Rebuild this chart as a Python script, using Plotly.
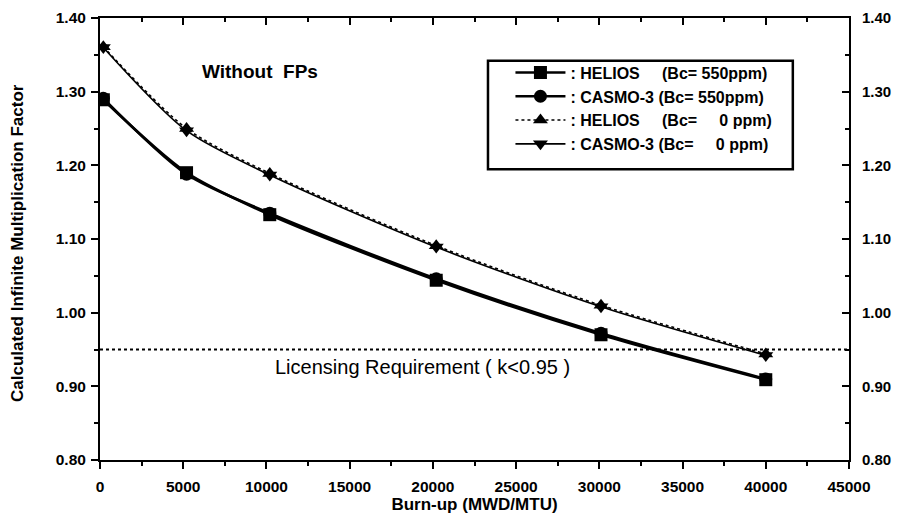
import plotly.graph_objects as go

burnup = [200, 5200, 10200, 20200, 30100, 40000]
helios_550 = [1.289, 1.190, 1.133, 1.044, 0.970, 0.909]
casmo_550 = [1.291, 1.188, 1.135, 1.046, 0.972, 0.910]
helios_0 = [1.361, 1.250, 1.189, 1.091, 1.010, 0.944]
casmo_0 = [1.360, 1.247, 1.187, 1.089, 1.008, 0.942]

limit_x = [0, 45000]
limit_y = [0.95, 0.95]

series_names = [
    ":\u00a0HELIOS\u00a0\u00a0\u00a0\u00a0\u00a0(Bc=\u00a0550ppm)",
    ":\u00a0CASMO-3\u00a0(Bc=\u00a0550ppm)",
    ":\u00a0HELIOS\u00a0\u00a0\u00a0\u00a0\u00a0(Bc=\u00a0\u00a0\u00a0\u00a0\u00a00\u00a0ppm)",
    ":\u00a0CASMO-3\u00a0(Bc=\u00a0\u00a0\u00a0\u00a0\u00a00\u00a0ppm)",
]

FONT = "Liberation Sans, Arial, sans-serif"
BLACK = "#000000"

fig = go.Figure()

styles = [
    (helios_550, "square", "solid", 2.6),
    (casmo_550, "circle", "solid", 2.6),
    (helios_0, "triangle-up", "dot", 1.6),
    (casmo_0, "triangle-down", "solid", 1.6),
]
for (ys, sym, dash, lw), name in zip(styles, series_names):
    fig.add_trace(go.Scatter(
        x=burnup, y=ys, name=name, mode="lines+markers",
        line=dict(color=BLACK, width=lw, dash=dash, shape="spline", smoothing=0.8),
        marker=dict(symbol=sym, size=13, color=BLACK),
    ))

fig.add_trace(go.Scatter(
    x=limit_x, y=limit_y, mode="lines", xaxis="x2", yaxis="y2",
    line=dict(color=BLACK, width=2, dash="dot"), showlegend=False, hoverinfo="skip",
))

tickfont = dict(family=FONT, size=15.5, color=BLACK, weight="bold")
titlefont = dict(family=FONT, size=17, color=BLACK, weight="bold")

fig.update_layout(
    width=897, height=515,
    margin=dict(l=100, r=48, t=18, b=55, autoexpand=False),
    paper_bgcolor="white", plot_bgcolor="white",
    showlegend=True,
    xaxis=dict(
        range=[0, 45000], dtick=5000, tickformat="d", automargin=False,
        showgrid=False, zeroline=False,
        showline=True, linecolor=BLACK, linewidth=2,
        ticks="outside", ticklen=7, tickwidth=2, tickcolor=BLACK,
        minor=dict(dtick=2500, ticks="outside", ticklen=4, tickwidth=2, tickcolor=BLACK),
        tickfont=tickfont, ticklabelstandoff=4,
        title=dict(text="Burn-up (MWD/MTU)", font=titlefont, standoff=5),
    ),
    xaxis2=dict(
        matches="x", overlaying="x", side="top", anchor="y", automargin=False,
        range=[0, 45000], dtick=5000, showticklabels=False,
        showgrid=False, zeroline=False,
        showline=True, linecolor=BLACK, linewidth=2,
        ticks="inside", ticklen=7, tickwidth=2, tickcolor=BLACK,
        minor=dict(dtick=2500, ticks="inside", ticklen=4, tickwidth=2, tickcolor=BLACK),
    ),
    yaxis=dict(
        range=[0.80, 1.40], dtick=0.1, tickformat=".2f", automargin=False,
        showgrid=False, zeroline=False,
        showline=True, linecolor=BLACK, linewidth=2,
        ticks="outside", ticklen=7, tickwidth=2, tickcolor=BLACK,
        minor=dict(dtick=0.05, ticks="outside", ticklen=4, tickwidth=2, tickcolor=BLACK),
        tickfont=tickfont, ticklabelstandoff=2,
    ),
    yaxis2=dict(
        matches="y", overlaying="y", side="right", anchor="x", automargin=False,
        range=[0.80, 1.40], dtick=0.1, tickformat=".2f",
        showgrid=False, zeroline=False,
        showline=True, linecolor=BLACK, linewidth=2,
        ticks="inside", ticklen=7, tickwidth=2, tickcolor=BLACK,
        minor=dict(dtick=0.05, ticks="inside", ticklen=4, tickwidth=2, tickcolor=BLACK),
        tickfont=dict(family=FONT, size=15, color=BLACK, weight="bold"), ticklabelstandoff=8,
    ),
    legend=dict(
        x=0.548, y=0.915, xanchor="left", yanchor="top",
        bgcolor="rgba(0,0,0,0)", borderwidth=0,
        font=dict(family=FONT, size=16, color=BLACK, weight="bold"),
        itemwidth=50, tracegroupgap=0,
    ),
    shapes=[dict(
        type="rect", xref="paper", yref="paper",
        x0=0.518, x1=0.925, y0=0.658, y1=0.903,
        line=dict(color=BLACK, width=2.5), fillcolor="rgba(0,0,0,0)",
    )],
    annotations=[
        dict(text="Calculated Infinite Multiplication Factor", x=-0.1095, y=0.491,
             xref="paper", yref="paper", textangle=-90,
             showarrow=False, xanchor="center", yanchor="middle", font=titlefont),
        dict(text="Without  FPs", x=9600, y=1.327, xref="x", yref="y",
             showarrow=False, xanchor="center", yanchor="middle",
             font=dict(family=FONT, size=19, color=BLACK, weight="bold")),
        dict(text="Licensing Requirement ( k<0.95 )", x=19350, y=0.926, xref="x", yref="y",
             showarrow=False, xanchor="center", yanchor="middle",
             font=dict(family=FONT, size=20, color=BLACK)),
    ],
)

fig.write_html("out.html")
